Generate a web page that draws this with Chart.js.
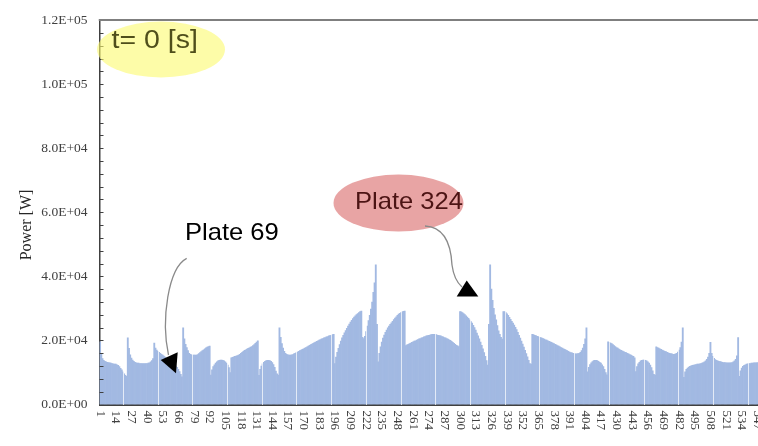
<!DOCTYPE html>
<html>
<head>
<meta charset="utf-8">
<script src="https://cdn.jsdelivr.net/npm/chart.js@4/dist/chart.umd.min.js"></script>
<style>
  html, body { margin: 0; padding: 0; background: #ffffff; overflow: hidden; }
  #wrap { width: 758px; height: 446px; }
</style>
</head>
<body>
<div id="wrap"><canvas id="c" width="758" height="446"></canvas></div>
<script>
// Power per plate [W], plates 1..547
const power = [
  19600, 15800, 14300, 13800, 13500, 13300, 13200, 13100, 13000, 12900,
  12800, 12700, 12600, 12600, 12400, 12200, 11800, 11300, 10800, 10200,
  9600, 9100, 8800, 20800, 17500, 15500, 14500, 13900, 13500, 13200,
  13000, 12900, 12900, 12800, 12800, 12800, 12800, 12800, 12800, 12800,
  12900, 13000, 13300, 13700, 14300, 19200, 17600, 17000, 16600, 16300,
  16000, 15700, 15400, 15100, 14800, 14500, 14200, 13900, 13600, 13300,
  13000, 12700, 12400, 12000, 11600, 11000, 10300, 9400, 8600, 23900,
  20500, 18800, 17800, 16800, 16000, 15700, 15500, 15400, 15400, 15400,
  15400, 15600, 15900, 16200, 16500, 16800, 17100, 17400, 17700, 17900,
  18100, 18200, 9200, 10800, 11800, 12400, 12900, 13300, 13600, 13800,
  13900, 13900, 13800, 13600, 13300, 12900, 12300, 11500, 10000, 14600,
  14700, 14900, 15000, 15100, 15300, 15400, 15700, 16000, 16300, 16600,
  16900, 17100, 17300, 17500, 17700, 17900, 18100, 18400, 18700, 19100,
  19500, 19900, 9100, 11000, 12000, 12700, 13200, 13500, 13700, 13800,
  13800, 13700, 13500, 13100, 12500, 11600, 10400, 9600, 9200, 23900,
  21000, 19000, 17600, 16600, 16000, 15700, 15500, 15400, 15400, 15500,
  15600, 15800, 16000, 16200, 16400, 16600, 16800, 17000, 17200, 17400,
  17600, 17800, 18000, 18200, 18500, 18700, 18900, 19100, 19300, 19500,
  19700, 19900, 20100, 20300, 20500, 20600, 20800, 20900, 21100, 21200,
  21400, 21500, 21600, 21800, 21900, 12800, 14800, 16300, 17500, 18700,
  19800, 20800, 21600, 22400, 23100, 23800, 24500, 25100, 25700, 26300,
  26800, 27300, 27700, 28100, 28400, 28700, 29000, 29200, 21000, 20600,
  21300, 22800, 24500, 26200, 27800, 29800, 32000, 35000, 38000, 43600,
  25000, 13300, 16000, 18000, 19500, 20700, 21700, 22500, 23200, 23900,
  24500, 25000, 25500, 26000, 26500, 27000, 27400, 27800, 28200, 28500,
  28700, 28900, 29100, 29200, 18400, 18600, 18800, 19000, 19200, 19400,
  19600, 19800, 19900, 20100, 20300, 20500, 20600, 20800, 20900, 21100,
  21200, 21400, 21500, 21600, 21700, 21800, 21900, 21900, 21900, 21800,
  21700, 21600, 21500, 21400, 21200, 21100, 20900, 20800, 20600, 20400,
  20200, 20000, 19700, 19400, 19100, 18800, 18500, 18300, 18100, 29000,
  28900, 28700, 28400, 28100, 27700, 27300, 26900, 26400, 25900, 25400,
  24700, 24000, 23200, 22300, 21400, 20500, 19500, 18500, 17400, 16200,
  15000, 13700, 12300, 25000, 43600, 36000, 32500, 30000, 28000, 26400,
  24600, 23000, 21900, 21000, 20400, 29000, 29000, 28700, 28300, 27800,
  27200, 26600, 26000, 25400, 24800, 24100, 23400, 22500, 21600, 20700,
  19800, 18900, 17900, 16900, 15900, 14900, 13800, 12800, 12600, 21900,
  21800, 21600, 21500, 21300, 21200, 21000, 20900, 20700, 20600, 20400,
  20200, 20100, 19900, 19700, 19600, 19400, 19200, 19000, 18800, 18600,
  18400, 18200, 18000, 17800, 17600, 17400, 17200, 17000, 16800, 16600,
  16400, 16200, 16100, 16000, 15900, 15800, 15800, 15900, 16000, 16300,
  16800, 17600, 18800, 20500, 23900, 10200, 11600, 12500, 13000, 13400,
  13700, 13800, 13800, 13700, 13500, 13200, 12900, 12400, 11800, 11000,
  10000, 9300, 19600, 19400, 19200, 19000, 18700, 18400, 18100, 17800,
  17600, 17300, 17100, 16900, 16700, 16500, 16300, 16200, 16000, 15800,
  15600, 15400, 15200, 15000, 14600, 10300, 11800, 12700, 13200, 13600,
  13800, 13900, 13900, 13800, 13600, 13300, 12900, 12300, 11500, 10500,
  9400, 9200, 18000, 17800, 17600, 17400, 17200, 17000, 16800, 16600,
  16500, 16300, 16100, 16000, 15900, 15800, 15700, 15700, 15800, 16000,
  16400, 17000, 17800, 19500, 23900, 8500, 10200, 11000, 11400, 11700,
  11900, 12100, 12200, 12300, 12400, 12500, 12600, 12600, 12700, 12800,
  12900, 13100, 13300, 13600, 14100, 14800, 16000, 19400, 16000, 15000,
  14400, 14000, 13800, 13600, 13500, 13400, 13300, 13200, 13100, 13100,
  13000, 13000, 13000, 13000, 13000, 13100, 13300, 13600, 14100, 15200,
  20900, 8800, 10500, 11400, 11900, 12200, 12400, 12600, 12700, 12800,
  12800, 12900, 12900, 13000, 13000, 13000, 13100
];

// plate numbers used as categories
const plates = power.map((_, k) => k + 1);

// plates that carry a tick label on the horizontal axis
const tickPlates = [1, 14, 27, 40, 53, 66, 79, 92, 105, 118, 131, 144, 157, 170,
  183, 196, 209, 222, 235, 248, 261, 274, 287, 300, 313, 326, 339, 352, 365,
  378, 391, 404, 417, 430, 443, 456, 469, 482, 495, 508, 521, 534, 547];

// labels for the major power ticks (every 2.0E+04 W)
const yTickLabels = ['0.0E+00', '2.0E+04', '4.0E+04', '6.0E+04', '8.0E+04', '1.0E+05', '1.2E+05'];

const AXIS = '#404040';
const SERIF = '"Liberation Serif", "Times New Roman", serif';
const SANS = '"Liberation Sans", Arial, sans-serif';

function fillEllipse(ctx, cx, cy, rx, ry, color) {
  ctx.beginPath();
  ctx.ellipse(cx, cy, rx, ry, 0, 0, Math.PI * 2);
  ctx.fillStyle = color;
  ctx.fill();
}

function wideText(ctx, str, x, y, size, sx, color) {
  ctx.save();
  ctx.translate(x, y);
  ctx.scale(sx, 1);
  ctx.font = size + 'px ' + SANS;
  ctx.fillStyle = color;
  ctx.textAlign = 'left';
  ctx.textBaseline = 'alphabetic';
  ctx.fillText(str, 0, 0);
  ctx.restore();
}

function triangle(ctx, pts) {
  ctx.beginPath();
  ctx.moveTo(pts[0][0], pts[0][1]);
  ctx.lineTo(pts[1][0], pts[1][1]);
  ctx.lineTo(pts[2][0], pts[2][1]);
  ctx.closePath();
  ctx.fillStyle = '#000000';
  ctx.fill();
}

// inner tick marks, rotated plate labels and the axis title
const frame = {
  id: 'frame',
  afterDatasetsDraw(chart) {
    const ctx = chart.ctx;
    const area = chart.chartArea;
    const xs = chart.scales.x;
    const ys = chart.scales.y;
    ctx.save();

    // tick marks pointing into the plot on the power axis
    ctx.strokeStyle = AXIS;
    ctx.lineWidth = 1;
    ys.ticks.forEach(t => {
      const y = Math.round(ys.getPixelForValue(t.value)) + 0.5;
      ctx.beginPath();
      ctx.moveTo(area.left, y);
      ctx.lineTo(area.left + 4, y);
      ctx.stroke();
    });

    // plate labels, written downwards
    ctx.font = '13px ' + SERIF;
    ctx.fillStyle = AXIS;
    ctx.textAlign = 'left';
    ctx.textBaseline = 'middle';
    tickPlates.forEach(p => {
      const x = xs.getPixelForValue(p - 1);
      ctx.save();
      ctx.translate(x, area.bottom + 6);
      ctx.rotate(Math.PI / 2);
      ctx.fillText(String(p), 0, 0);
      ctx.restore();
    });

    // axis title
    ctx.save();
    ctx.translate(27, 225);
    ctx.rotate(-Math.PI / 2);
    ctx.font = '16px ' + SERIF;
    ctx.fillStyle = '#262626';
    ctx.textAlign = 'center';
    ctx.textBaseline = 'middle';
    ctx.fillText('Power [W]', 0, 0);
    ctx.restore();

    ctx.restore();
  }
};

// top edge of the frame, time badge and plate pointers
const callouts = {
  id: 'callouts',
  afterDraw(chart) {
    const ctx = chart.ctx;
    const area = chart.chartArea;
    ctx.save();

    ctx.strokeStyle = '#7f7f7f';
    ctx.lineWidth = 2;
    ctx.beginPath();
    ctx.moveTo(area.left - 0.75, area.top);
    ctx.lineTo(chart.width, area.top);
    ctx.stroke();

    fillEllipse(ctx, 161, 49.5, 64, 28, 'rgba(252,250,110,0.6)');
    wideText(ctx, 't= 0 [s]', 111.5, 48, 25, 1.14, '#4f4e1b');

    fillEllipse(ctx, 398.5, 203, 65, 28.5, 'rgba(214,90,90,0.55)');
    wideText(ctx, 'Plate 324', 355, 209, 24, 1.065, '#4c1414');

    wideText(ctx, 'Plate 69', 185, 239.5, 24, 1.065, '#000000');

    ctx.strokeStyle = '#8a8a8a';
    ctx.lineWidth = 1.3;
    ctx.beginPath();
    ctx.moveTo(186.7, 258.3);
    ctx.bezierCurveTo(168, 268, 161, 320, 168.5, 355);
    ctx.stroke();
    triangle(ctx, [[160.7, 360], [177.7, 352.3], [176, 373.3]]);

    ctx.beginPath();
    ctx.moveTo(425, 226);
    ctx.bezierCurveTo(445, 227, 451, 245, 452, 265);
    ctx.quadraticCurveTo(454, 280, 462, 287);
    ctx.stroke();
    triangle(ctx, [[456.7, 296.5], [466.7, 280.5], [478.3, 296.5]]);

    ctx.restore();
  }
};

new Chart(document.getElementById('c'), {
  type: 'bar',
  data: {
    labels: plates,
    datasets: [{
      data: power,
      backgroundColor: '#a2b9e2',
      borderWidth: 0,
      barPercentage: 1.0,
      categoryPercentage: 1.0
    }]
  },
  options: {
    responsive: false,
    animation: false,
    events: [],
    layout: { padding: { left: 0, right: 0, top: 15, bottom: 33.5 } },
    plugins: { legend: { display: false }, tooltip: { enabled: false } },
    scales: {
      x: {
        type: 'category',
        ticks: { display: false },
        grid: { display: false },
        border: { display: true, color: AXIS, width: 2 }
      },
      seams: {
        type: 'linear',
        position: 'bottom',
        min: -20.2,
        max: 526.8,
        ticks: { display: false, stepSize: 30.53, includeBounds: false },
        grid: { display: true, drawTicks: false, color: 'rgba(255,255,255,0.7)', lineWidth: 1, z: 1 },
        border: { display: false }
      },
      y: {
        min: 0,
        max: 120000,
        ticks: {
          stepSize: 4000,
          autoSkip: false,
          padding: 12,
          color: AXIS,
          font: { family: SERIF, size: 13.5 },
          callback: v => (v % 20000 === 0 ? yTickLabels[v / 20000] : '')
        },
        grid: { display: false, drawTicks: false },
        border: { display: true, color: AXIS, width: 1.5 },
        afterFit: s => { s.width = 99.5; }
      }
    }
  },
  plugins: [frame, callouts]
});
</script>
</body>
</html>
